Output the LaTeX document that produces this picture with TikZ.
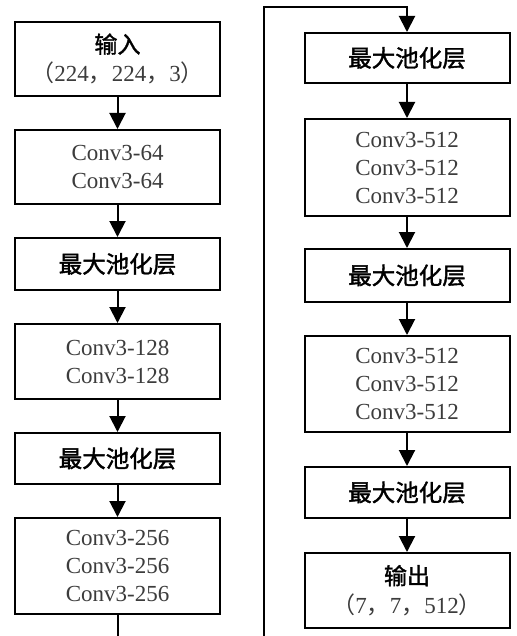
\documentclass[tikz,border=0pt]{standalone}
\usepackage{fontspec}
\setmainfont{Liberation Serif}
\newfontfamily\cjk{Noto Sans CJK SC}
\newfontfamily\cjkh{Noto Sans CJK SC}[FakeBold=1.6]
\usetikzlibrary{arrows.meta}
\newcommand{\fw}[1]{{\cjk #1}}
\definecolor{convgray}{HTML}{3C3C3C}
\begin{document}
\begin{tikzpicture}[x=1pt,y=-1pt,
  box/.style={draw, line width=2pt, minimum width=205pt, inner sep=0pt, align=center, fill=white},
  conv/.style={box, text=convgray, font=\fontsize{23}{28}\selectfont},
  pool/.style={box, font=\cjkh\fontsize{23.5}{29}\selectfont},
  io/.style={box, font=\fontsize{23}{29}\selectfont},
  arr/.style={line width=2pt, -{Triangle[length=16pt,width=16pt]}}]
\useasboundingbox (0,0) rectangle (516,636);
\clip (0,0) rectangle (516,636);
% left column
\node[io, minimum height=74pt] (L1) at (117.5,59) {{\cjkh 输入}\\{\color{convgray}\fw{（}224\fw{，}224\fw{，}3\fw{）}}};
\node[conv, minimum height=74pt] (L2) at (117.5,167) {Conv3-64\\Conv3-64};
\node[pool, minimum height=52pt] (L3) at (117.5,264) {最大池化层};
\node[conv, minimum height=75pt] (L4) at (117.5,361.5) {Conv3-128\\Conv3-128};
\node[pool, minimum height=51pt] (L5) at (117.5,458.5) {最大池化层};
\node[conv, minimum height=96pt] (L6) at (117.5,566) {Conv3-256\\Conv3-256\\Conv3-256};
% right column
\node[pool, minimum height=50pt] (R1) at (407,58) {最大池化层};
\node[conv, minimum height=97pt] (R2) at (407,167.5) {Conv3-512\\Conv3-512\\Conv3-512};
\node[pool, minimum height=53pt] (R3) at (407,275.5) {最大池化层};
\node[conv, minimum height=96pt] (R4) at (407,384) {Conv3-512\\Conv3-512\\Conv3-512};
\node[pool, minimum height=51pt] (R5) at (407,492.5) {最大池化层};
\node[io, minimum height=75pt] (R6) at (407,590.5) {{\cjkh 输出}\\{\color{convgray}\fw{（}7\fw{，}7\fw{，}512\fw{）}}};
% arrows
\draw[arr] (L1) -- (L2);
\draw[arr] (L2) -- (L3);
\draw[arr] (L3) -- (L4);
\draw[arr] (L4) -- (L5);
\draw[arr] (L5) -- (L6);
\draw[arr] (R1) -- (R2);
\draw[arr] (R2) -- (R3);
\draw[arr] (R3) -- (R4);
\draw[arr] (R4) -- (R5);
\draw[arr] (R5) -- (R6);
% wrap connector
\coordinate (cb1) at (117.5,660);
\coordinate (cb2) at (264,660);
\coordinate (ct) at (264,7);
\draw[arr] (L6.south) -- (cb1) -- (cb2) -- (ct) -| (R1.north);
\end{tikzpicture}
\end{document}
